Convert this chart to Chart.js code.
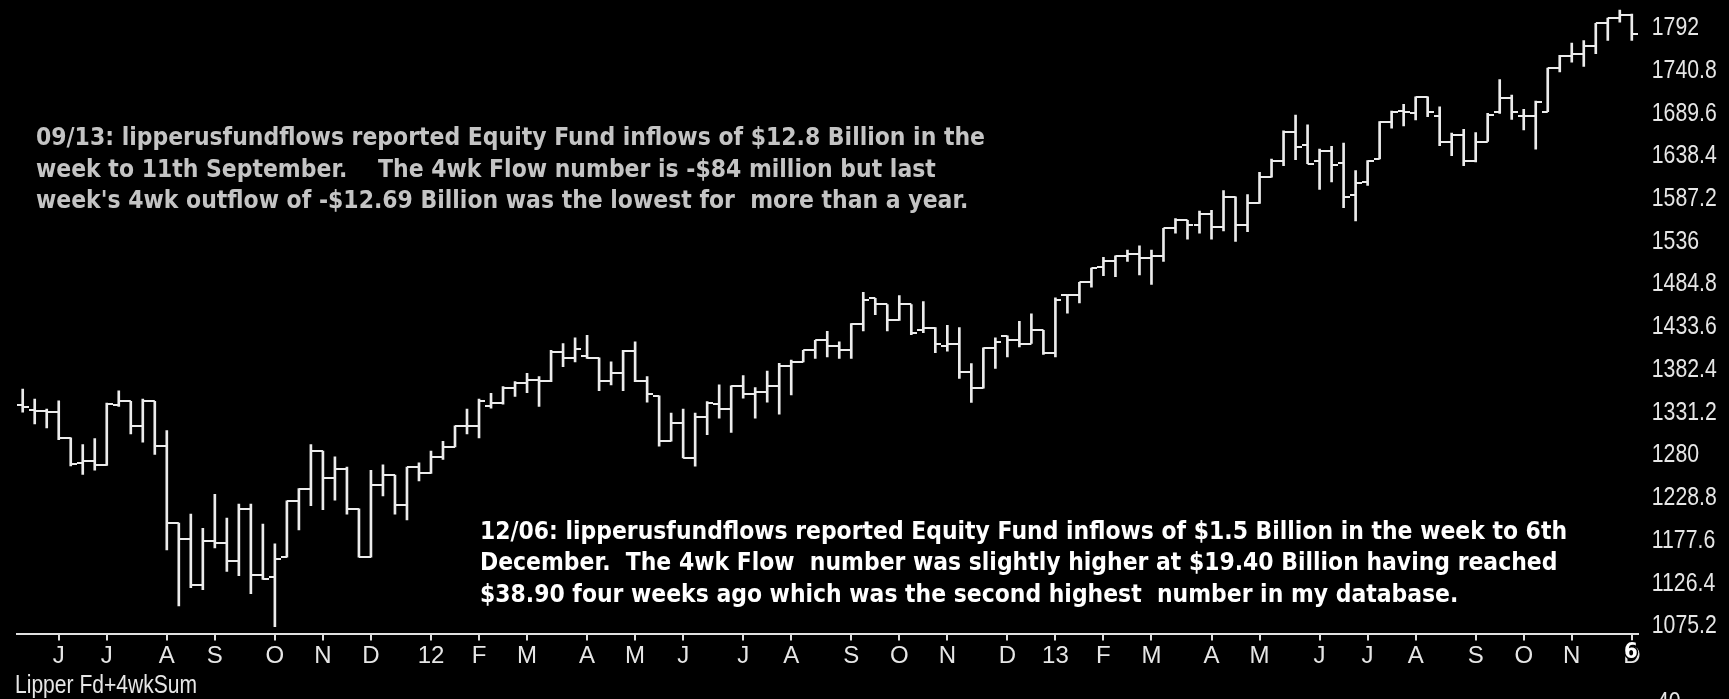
<!DOCTYPE html>
<html>
<head>
<meta charset="utf-8">
<script src="https://cdn.jsdelivr.net/npm/chart.js@4.4.1/dist/chart.umd.min.js"></script>
<style>
  html, body { margin: 0; padding: 0; background: #000; overflow: hidden; }
  #wrap { width: 1729px; height: 699px; position: relative; background: #000; }
</style>
</head>
<body>
<div id="wrap"><canvas id="chart" width="1729" height="699"></canvas></div>
<script>
// Weekly index bars (open / high / low / close), week ending Friday, 13 May 2011 to 6 Dec 2013
const firstWeekEnding = '2011-05-13';
const weekCount = 135;

const opens = [1339.9,1334.8,1332.8,1332.0,1301.0,1271.2,1273.2,1268.1,1340.7,1344.7,
  1315.7,1344.7,1291.9,1199.0,1180.0,1124.4,1178.0,1175.2,1153.4,1215.7,
  1137.1,1134.3,1158.1,1225.6,1240.3,1285.1,1253.4,1263.3,1216.1,1158.1,
  1244.7,1256.6,1220.4,1266.1,1258.5,1278.3,1290.2,1315.6,1315.6,1339.5,
  1342.6,1361.3,1366.4,1370.4,1369.6,1404.2,1396.2,1399.4,1397.0,1369.6,
  1378.4,1405.0,1369.6,1351.4,1297.0,1318.8,1277.1,1325.6,1341.4,1335.5,
  1363.3,1353.3,1356.5,1363.3,1387.1,1392.2,1406.1,1418.0,1410.9,1406.1,
  1437.9,1468.4,1460.9,1441.8,1460.9,1429.9,1433.1,1410.9,1414.1,1380.3,
  1360.5,1408.9,1423.2,1418.0,1414.1,1429.9,1403.3,1472.8,1472.8,1487.5,
  1505.4,1513.4,1518.5,1521.3,1516.1,1518.5,1552.3,1561.8,1556.2,1568.9,
  1553.8,1590.0,1556.2,1582.0,1613.4,1633.2,1667.0,1651.5,1632.4,1645.1,
  1630.4,1591.9,1607.8,1635.2,1680.1,1692.8,1690.0,1709.8,1687.2,1656.2,
  1664.2,1632.4,1656.2,1692.0,1708.6,1687.1,1687.1,1691.9,1744.3,1758.2,
  1760.6,1770.5,1797.9,1804.2,1807.8];

const highs = [1359.4,1347.5,1335.5,1345.5,1301.0,1293.1,1300.2,1342.7,1357.4,1344.7,
  1347.5,1344.7,1309.7,1199.0,1209.7,1192.7,1233.5,1205.0,1221.6,1221.6,
  1197.8,1174.0,1225.6,1240.3,1293.1,1285.1,1278.4,1266.1,1216.1,1262.1,
  1268.9,1256.6,1266.1,1271.2,1285.1,1297.0,1315.6,1335.5,1347.4,1354.5,
  1362.5,1368.4,1378.4,1374.4,1406.1,1414.1,1420.8,1424.0,1397.0,1392.2,
  1406.1,1416.1,1374.4,1351.4,1330.7,1335.5,1330.7,1344.6,1364.5,1363.3,
  1375.6,1361.3,1381.1,1390.3,1394.2,1406.1,1418.0,1428.7,1416.1,1437.9,
  1475.6,1468.4,1460.9,1471.6,1460.9,1464.5,1433.1,1435.9,1433.1,1390.2,
  1408.9,1420.8,1423.2,1440.7,1449.8,1429.9,1468.8,1472.8,1487.5,1504.6,
  1517.3,1519.3,1526.1,1531.2,1526.1,1552.3,1563.8,1561.8,1572.9,1573.7,
  1597.5,1590.0,1592.7,1619.3,1635.2,1668.9,1688.0,1676.1,1647.1,1650.3,
  1654.3,1621.3,1633.2,1680.1,1692.8,1700.7,1709.8,1709.8,1697.9,1666.2,
  1670.9,1667.0,1690.0,1730.4,1711.7,1694.7,1704.6,1744.3,1759.4,1774.1,
  1777.2,1797.9,1804.2,1813.8,1809.0];

const lows = [1332.0,1317.7,1312.9,1299.0,1267.3,1257.4,1262.5,1268.1,1338.7,1305.8,
  1295.9,1281.2,1166.9,1099.8,1121.6,1119.2,1169.2,1141.1,1135.9,1114.5,
  1131.5,1074.8,1158.1,1190.7,1219.7,1214.9,1226.4,1209.7,1158.1,1158.1,
  1231.6,1209.7,1202.6,1249.4,1258.5,1275.2,1290.2,1305.7,1300.9,1336.7,
  1341.4,1350.6,1355.3,1338.7,1368.4,1386.3,1392.2,1396.2,1357.7,1364.5,
  1357.7,1368.4,1343.8,1291.0,1297.0,1277.1,1267.2,1304.9,1324.8,1307.7,
  1348.6,1324.8,1343.8,1329.5,1352.6,1392.2,1396.2,1398.2,1396.2,1396.2,
  1429.1,1448.6,1429.1,1441.8,1424.8,1427.2,1403.3,1404.9,1372.4,1343.4,
  1360.5,1384.3,1398.2,1410.1,1414.1,1401.0,1398.2,1450.6,1462.9,1481.5,
  1495.5,1494.3,1512.6,1496.3,1484.8,1512.6,1546.3,1539.2,1546.3,1539.2,
  1549.1,1536.4,1548.3,1582.0,1613.4,1627.3,1634.4,1629.7,1598.7,1607.8,
  1576.9,1561.0,1603.5,1635.2,1672.1,1674.9,1682.0,1686.0,1651.1,1639.2,
  1627.3,1631.6,1656.2,1690.0,1682.8,1670.1,1647.1,1691.9,1739.5,1751.4,
  1746.3,1761.4,1777.2,1799.1,1777.2];

const closes = [1337.5,1332.8,1332.0,1301.0,1269.3,1273.2,1268.1,1341.5,1344.7,1315.7,
  1344.7,1291.9,1199.0,1180.0,1124.4,1178.0,1175.2,1153.4,1215.7,1137.1,
  1132.3,1156.1,1225.6,1240.3,1285.1,1253.4,1263.3,1216.1,1158.1,1244.7,
  1256.6,1220.4,1266.1,1258.5,1278.3,1290.2,1315.6,1315.6,1345.4,1342.6,
  1361.3,1366.4,1370.4,1369.6,1404.2,1396.2,1408.1,1397.0,1369.6,1378.4,
  1405.0,1369.6,1353.3,1297.0,1318.8,1277.1,1325.6,1342.6,1335.5,1363.3,
  1353.3,1356.5,1363.3,1387.1,1392.2,1406.1,1418.0,1410.9,1406.1,1437.9,
  1465.7,1460.9,1441.8,1460.9,1427.2,1433.1,1414.1,1414.1,1380.3,1360.5,
  1408.9,1416.1,1418.0,1414.1,1429.9,1403.3,1465.7,1472.8,1487.5,1504.6,
  1513.4,1518.5,1521.3,1516.1,1518.5,1552.3,1561.8,1556.2,1568.9,1553.8,
  1590.0,1556.2,1582.0,1613.4,1633.2,1667.0,1649.1,1629.7,1645.1,1628.5,
  1590.0,1606.6,1633.2,1680.1,1692.0,1692.0,1709.8,1692.0,1656.2,1664.2,
  1632.4,1656.2,1688.0,1708.6,1691.9,1687.1,1703.8,1744.3,1758.2,1760.6,
  1770.5,1797.9,1804.2,1807.8,1785.2];

// Price axis ticks
const yTicks = [1075.2, 1126.4, 1177.6, 1228.8, 1280, 1331.2, 1382.4, 1433.6, 1484.8, 1536, 1587.2, 1638.4, 1689.6, 1740.8, 1792];
const yTickLabels = ['1075.2', '1126.4', '1177.6', '1228.8', '1280', '1331.2', '1382.4', '1433.6', '1484.8', '1536', '1587.2', '1638.4', '1689.6', '1740.8', '1792'];
const yMin = 1066.63;
const yMax = 1820.98;

// Month initials; January is shown as the two-digit year
const monthInitials = ['J', 'F', 'M', 'A', 'M', 'J', 'J', 'A', 'S', 'O', 'N', 'D'];

// Panel texts
const noteTop = [
  "09/13: lipperusfundflows reported Equity Fund inflows of $12.8 Billion in the",
  "week to 11th September.    The 4wk Flow number is -$84 million but last",
  "week's 4wk outflow of -$12.69 Billion was the lowest for  more than a year."
];
const noteBottom = [
  "12/06: lipperusfundflows reported Equity Fund inflows of $1.5 Billion in the week to 6th",
  "December.  The 4wk Flow  number was slightly higher at $19.40 Billion having reached",
  "$38.90 four weeks ago which was the second highest  number in my database."
];
const panelTitle = 'Lipper Fd+4wkSum';
const lowerPanelTopTick = '40';
const lastBarMarker = '6';

// Week-ending dates and the label for the first week of each month
const weekEnding = [];
const monthLabel = [];
{
  const d = new Date(firstWeekEnding + 'T12:00:00Z');
  let prevMonth = -1;
  for (let i = 0; i < weekCount; i++) {
    const m = d.getUTCMonth();
    weekEnding.push(d.toISOString().slice(0, 10));
    if (i > 0 && m !== prevMonth) {
      monthLabel.push(m === 0 ? String(d.getUTCFullYear() % 100).padStart(2, '0') : monthInitials[m]);
    } else {
      monthLabel.push('');
    }
    prevMonth = m;
    d.setUTCDate(d.getUTCDate() + 7);
  }
}

const barColor = '#ececec';
const labelColor = '#e6e6e6';
const labelFont = '"Liberation Sans", Arial, sans-serif';

// Small horizontal tick images: open to the left of the bar, close to the right
function tickImage(side) {
  const c = document.createElement('canvas');
  c.width = 12; c.height = 2;
  const g = c.getContext('2d');
  g.fillStyle = barColor;
  if (side === 'left') g.fillRect(0, 0, 6, 2); else g.fillRect(6, 0, 6, 2);
  return c;
}
const openTick = tickImage('left');
const closeTick = tickImage('right');

// Draw text squeezed horizontally by sx
function narrowText(ctx, text, x, y, sx) {
  ctx.save();
  ctx.translate(x, y);
  ctx.scale(sx, 1);
  ctx.fillText(text, 0, 0);
  ctx.restore();
}

function drawScaledLines(ctx, lines, x, firstBaseline, step, targetWidth, font, color) {
  ctx.save();
  ctx.font = font;
  ctx.fillStyle = color;
  ctx.textBaseline = 'alphabetic';
  ctx.textAlign = 'left';
  const sx = targetWidth / ctx.measureText(lines[0]).width;
  lines.forEach((t, k) => narrowText(ctx, t, x, firstBaseline + k * step, sx));
  ctx.restore();
}

const textPlugin = {
  id: 'panelText',
  afterDraw(chart) {
    const ctx = chart.ctx;
    drawScaledLines(ctx, noteTop, 36, 145, 31.6, 949, 'bold 24px "DejaVu Sans", Verdana, sans-serif', '#c4c4c4');
    drawScaledLines(ctx, noteBottom, 480, 538.5, 31.6, 1087, 'bold 24px "DejaVu Sans", Verdana, sans-serif', '#ffffff');

    ctx.save();
    ctx.fillStyle = labelColor;
    ctx.font = '25px ' + labelFont;
    ctx.textAlign = 'left';

    // price labels at the right, placed by the y scale
    const ys = chart.scales.y;
    ctx.textBaseline = 'middle';
    const sxY = 65 / ctx.measureText('1740.8').width;
    ys.ticks.forEach((t, i) => {
      narrowText(ctx, yTickLabels[i], chart.chartArea.right + 14, ys.getPixelForValue(t.value), sxY);
    });

    ctx.textBaseline = 'alphabetic';
    const sxT = 182 / ctx.measureText(panelTitle).width;
    narrowText(ctx, panelTitle, 15, 693, sxT);
    narrowText(ctx, lowerPanelTopTick, 1657, 710, sxY);

    // marker over the last month label
    const xs = chart.scales.x;
    const xLast = xs.getPixelForValue(weekCount - 1);
    ctx.font = 'bold 22px "DejaVu Sans Condensed", "DejaVu Sans", sans-serif';
    ctx.textAlign = 'center';
    ctx.textBaseline = 'middle';
    ctx.lineWidth = 3;
    ctx.strokeStyle = '#000';
    ctx.strokeText(lastBarMarker, xLast - 1, 652);
    ctx.fillStyle = '#ffffff';
    ctx.fillText(lastBarMarker, xLast - 1, 652);
    ctx.restore();
  }
};

const ctx = document.getElementById('chart').getContext('2d');
new Chart(ctx, {
  type: 'bar',
  data: {
    labels: weekEnding,
    datasets: [
      {
        type: 'bar',
        label: 'High-Low',
        data: lows.map((l, i) => [l, highs[i]]),
        backgroundColor: barColor,
        borderWidth: 0,
        barThickness: 2,
        order: 2
      },
      {
        type: 'line',
        label: 'Open',
        data: opens,
        showLine: false,
        pointStyle: openTick,
        pointRadius: 3,
        pointHoverRadius: 3,
        order: 1,
        clip: false
      },
      {
        type: 'line',
        label: 'Close',
        data: closes,
        showLine: false,
        pointStyle: closeTick,
        pointRadius: 3,
        pointHoverRadius: 3,
        order: 1,
        clip: false
      }
    ]
  },
  options: {
    responsive: false,
    animation: false,
    events: [],
    layout: { padding: { left: 16.7, top: 0, right: 0, bottom: 0 } },
    plugins: { legend: { display: false }, tooltip: { enabled: false } },
    scales: {
      x: {
        type: 'category',
        offset: true,
        grid: {
          display: true,
          drawOnChartArea: false,
          drawTicks: true,
          tickLength: 7,
          offset: false,
          lineWidth: 2,
          color: (c) => (monthLabel[c.index] ? '#e0e0e0' : 'rgba(0,0,0,0)')
        },
        border: { display: true, color: '#e0e0e0', width: 2 },
        ticks: {
          autoSkip: false,
          maxRotation: 0,
          minRotation: 0,
          padding: 1,
          color: labelColor,
          font: { family: labelFont, size: 24 },
          callback: (v, i) => monthLabel[i]
        },
        afterFit(scale) {
          scale.height = 65.5;
          scale.paddingLeft = 0;
          scale.paddingRight = 0;
        }
      },
      y: {
        type: 'linear',
        position: 'right',
        min: yMin,
        max: yMax,
        grid: { display: false, drawTicks: false },
        border: { display: false },
        afterBuildTicks(scale) { scale.ticks = yTicks.map(v => ({ value: v })); },
        ticks: { display: false },
        afterFit(scale) {
          scale.width = 91.2;
          scale.paddingTop = 0;
          scale.paddingBottom = 0;
        }
      }
    }
  },
  plugins: [textPlugin]
});
</script>
</body>
</html>
